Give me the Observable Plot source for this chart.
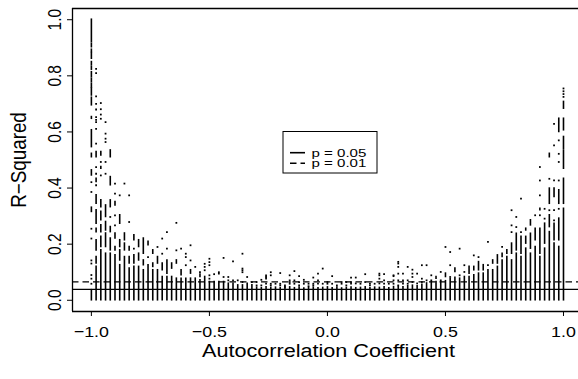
<!DOCTYPE html>
<html>
<head>
<meta charset="utf-8">
<script src="https://cdn.jsdelivr.net/npm/d3@7"></script>
<script src="https://cdn.jsdelivr.net/npm/@observablehq/plot@0.6"></script>
<style>
  html, body { margin: 0; padding: 0; background: #fff; }
  #wrap { position: relative; width: 578px; height: 379px; overflow: hidden; }
  #wrap svg { position: absolute; left: 0; top: 0; }
</style>
</head>
<body>
<div id="wrap"></div>
<script>
const xTicks = [-1, -0.5, 0, 0.5, 1];
const yTicks = [0, 0.2, 0.4, 0.6, 0.8, 1];
const xLabel = "Autocorrelation Coefficient";
const yLabel = "R\u2212Squared";
const critLabels = ["p = 0.05", "p = 0.01"];
const critR2 = [0.0388, 0.0655];
const critDash = [null, "6.5,4"];

// vertical runs of over-plotted points: [coefficient, lowest R², highest R²]
const runs = [
[-1,0.92,1],[-1,0.902,0.914],[-1,0.885,0.893],[-1,0.861,0.881],[-1,0.837,0.849],[-1,0.822,0.831],[-1,0.796,0.813],[-1,0.778,0.79],[-1,0.758,0.772],[-1,0.73,0.754],[-1,0.695,0.722],[-1,0.647,0.653],[-1,0.546,0.606],[-1,0.51,0.522],[-1,0.445,0.463],[-1,0.315,0.33],[-1,0,0.036],
[-0.98,0.51,0.528],[-0.98,0.422,0.433],[-0.98,0.344,0.374],[-0.98,0.273,0.321],[-0.98,0.243,0.255],[-0.98,0.178,0.214],[-0.98,0.131,0.154],[-0.98,0,0.119],
[-0.96,0.516,0.528],[-0.96,0.469,0.475],[-0.96,0.332,0.356],[-0.96,0.285,0.315],[-0.96,0.243,0.267],[-0.96,0.19,0.226],[-0.96,0,0.178],
[-0.94,0.297,0.338],[-0.94,0.249,0.279],[-0.94,0.19,0.238],[-0.94,0,0.166],
[-0.92,0.51,0.534],[-0.92,0.41,0.439],[-0.92,0.332,0.356],[-0.92,0.243,0.261],[-0.92,0.178,0.22],[-0.92,0,0.166],
[-0.9,0.338,0.35],[-0.9,0.22,0.238],[-0.9,0.178,0.19],[-0.9,0,0.16],
[-0.88,0.273,0.303],[-0.88,0.19,0.214],[-0.88,0.142,0.178],[-0.88,0,0.125],
[-0.86,0.214,0.238],[-0.86,0.178,0.202],[-0.86,0,0.154],
[-0.84,0.178,0.19],[-0.84,0.131,0.154],[-0.84,0,0.113],
[-0.82,0.214,0.232],[-0.82,0.131,0.16],[-0.82,0,0.119],
[-0.8,0.19,0.214],[-0.8,0.142,0.166],[-0.8,0,0.119],
[-0.78,0.166,0.22],[-0.78,0.125,0.142],[-0.78,0,0.107],
[-0.76,0.196,0.208],[-0.76,0,0.125],
[-0.74,0.166,0.178],[-0.74,0.119,0.131],[-0.74,0,0.107],
[-0.72,0.131,0.154],[-0.72,0,0.107],
[-0.7,0.107,0.131],[-0.7,0,0.083],
[-0.68,0.095,0.142],[-0.68,0,0.083],
[-0.66,0.113,0.131],[-0.66,0,0.083],
[-0.64,0.131,0.142],[-0.64,0,0.077],
[-0.62,0.089,0.107],[-0.62,0,0.077],
[-0.6,0,0.077],
[-0.58,0.095,0.107],[-0.58,0,0.077],
[-0.56,0,0.077],
[-0.54,0.083,0.092],[-0.54,0,0.071],
[-0.52,0,0.083],
[-0.5,0,0.065],[-0.48,0,0.065],[-0.46,0,0.065],[-0.44,0,0.065],
[-0.42,0,0.059],[-0.4,0,0.059],[-0.38,0,0.053],[-0.36,0,0.053],[-0.34,0,0.059],[-0.32,0,0.053],
[-0.3,0,0.045],[-0.28,0,0.043],[-0.26,0,0.046],[-0.24,0,0.044],[-0.22,0,0.045],[-0.2,0,0.043],
[-0.18,0,0.044],[-0.16,0,0.046],[-0.14,0,0.043],[-0.12,0,0.045],[-0.1,0,0.042],[-0.08,0,0.044],
[-0.06,0,0.045],[-0.04,0,0.043],[-0.02,0,0.044],[0,0,0.046],[0.02,0,0.043],[0.04,0,0.045],
[0.06,0,0.042],[0.08,0,0.044],[0.1,0,0.045],[0.12,0,0.043],[0.14,0,0.044],[0.16,0,0.046],
[0.18,0,0.043],[0.2,0,0.045],[0.22,0,0.044],[0.24,0,0.046],[0.26,0,0.043],[0.28,0,0.047],
[0.3,0,0.048],[0.32,0,0.046],[0.34,0,0.05],[0.36,0,0.052],[0.38,0,0.05],[0.4,0,0.055],
[0.42,0,0.06],[0.44,0,0.065],
[0.46,0.077,0.083],[0.46,0,0.065],
[0.48,0,0.065],
[0.5,0.083,0.095],[0.5,0,0.068],
[0.52,0,0.075],
[0.54,0.101,0.113],[0.54,0,0.08],
[0.56,0,0.077],
[0.58,0,0.083],
[0.6,0.095,0.119],[0.6,0,0.083],
[0.62,0.107,0.119],[0.62,0,0.089],
[0.64,0.107,0.136],[0.64,0,0.095],
[0.66,0.107,0.125],[0.66,0,0.095],
[0.68,0,0.107],
[0.7,0.131,0.142],[0.7,0,0.107],
[0.72,0.131,0.16],[0.72,0,0.119],
[0.74,0.154,0.166],[0.74,0,0.142],
[0.76,0.166,0.178],[0.76,0,0.154],
[0.78,0.166,0.202],[0.78,0,0.142],
[0.8,0.178,0.237],[0.8,0,0.166],
[0.82,0.166,0.226],[0.82,0,0.154],
[0.84,0.249,0.255],[0.84,0.202,0.226],[0.84,0,0.184],
[0.86,0.267,0.285],[0.86,0.184,0.237],[0.86,0,0.166],
[0.88,0.214,0.255],[0.88,0,0.19],
[0.9,0.321,0.326],[0.9,0.166,0.255],[0.9,0,0.154],
[0.92,0.202,0.273],[0.92,0,0.184],
[0.94,0.51,0.522],[0.94,0.344,0.398],[0.94,0.261,0.303],[0.94,0,0.243],
[0.96,0.368,0.398],[0.96,0.214,0.273],[0.96,0,0.202],
[0.98,0.6,0.647],[0.98,0.344,0.392],[0.98,0.214,0.291],[0.98,0,0.19],
[1,0.683,0.707],[1,0.606,0.647],[1,0.54,0.582],[1,0.469,0.534],[1,0.344,0.433],[1,0,0.326]
];

// isolated points: [coefficient, R²]
const dots = [
[-1,0.421],[-1,0.386],[-1,0.255],[-1,0.22],[-1,0.142],[-1,0.131],[-1,0.09],[-1,0.077],[-1,0.059],
[-0.98,0.825],[-0.98,0.81],[-0.98,0.727],[-0.98,0.7],[-0.98,0.68],[-0.98,0.653],[-0.98,0.643],[-0.98,0.635],[-0.98,0.611],[-0.98,0.558],[-0.98,0.475],[-0.98,0.451],[-0.98,0.41],
[-0.96,0.703],[-0.96,0.681],[-0.96,0.662],[-0.96,0.647],[-0.96,0.493],[-0.96,0.445],
[-0.94,0.635],[-0.94,0.594],[-0.94,0.576],[-0.94,0.564],[-0.94,0.493],[-0.94,0.451],
[-0.92,0.297],
[-0.9,0.416],[-0.9,0.38],[-0.9,0.303],[-0.9,0.267],
[-0.88,0.374],[-0.86,0.416],[-0.84,0.374],[-0.84,0.279],[-0.82,0.184],[-0.76,0.154],[-0.72,0.19],
[-0.7,0.22],[-0.7,0.166],[-0.68,0.243],[-0.68,0.184],[-0.64,0.276],[-0.64,0.178],[-0.62,0.184],
[-0.6,0.166],[-0.6,0.154],[-0.6,0.125],[-0.58,0.196],[-0.58,0.142],[-0.56,0.119],[-0.54,0.1],
[-0.52,0.13],[-0.52,0.119],[-0.52,0.107],
[-0.5,0.148],[-0.5,0.136],[-0.5,0.125],[-0.5,0.089],[-0.5,0.077],
[-0.48,0.093],[-0.46,0.1],[-0.46,0.095],[-0.44,0.151],[-0.44,0.083],[-0.42,0.083],[-0.42,0.071],
[-0.4,0.139],[-0.4,0.071],[-0.38,0.071],
[-0.36,0.166],[-0.36,0.113],[-0.36,0.107],[-0.36,0.1],[-0.36,0.065],
[-0.34,0.083],[-0.32,0.065],
[-0.3,0.053],[-0.3,0.065],[-0.28,0.073],[-0.28,0.053],
[-0.26,0.089],[-0.26,0.083],[-0.26,0.077],[-0.26,0.059],
[-0.24,0.1],[-0.24,0.089],[-0.24,0.059],[-0.24,0.053],
[-0.22,0.059],[-0.2,0.097],[-0.2,0.059],[-0.2,0.053],[-0.18,0.053],[-0.18,0.048],
[-0.16,0.089],[-0.16,0.071],[-0.16,0.065],[-0.16,0.059],
[-0.14,0.104],[-0.14,0.071],[-0.14,0.059],[-0.12,0.086],[-0.12,0.065],[-0.12,0.053],
[-0.1,0.073],[-0.1,0.059],[-0.08,0.059],[-0.08,0.05],
[-0.06,0.081],[-0.06,0.059],[-0.06,0.053],[-0.04,0.095],[-0.04,0.071],[-0.04,0.059],
[-0.02,0.113],[-0.02,0.059],[0,0.065],[0,0.059],[0.02,0.086],[0.02,0.059],[0.04,0.053],
[0.06,0.065],[0.06,0.059],[0.08,0.065],[0.08,0.053],[0.1,0.081],[0.1,0.065],[0.1,0.059],
[0.12,0.081],[0.12,0.06],[0.14,0.059],[0.16,0.093],[0.16,0.065],[0.18,0.059],[0.18,0.053],
[0.2,0.059],[0.22,0.095],[0.22,0.089],[0.22,0.077],[0.22,0.06],
[0.24,0.093],[0.24,0.071],[0.24,0.059],[0.26,0.059],
[0.28,0.089],[0.28,0.086],[0.28,0.071],[0.28,0.059],
[0.3,0.137],[0.3,0.131],[0.3,0.119],[0.3,0.095],[0.3,0.071],[0.3,0.053],
[0.32,0.095],[0.32,0.071],[0.32,0.059],[0.34,0.119],[0.34,0.071],[0.34,0.059],
[0.36,0.109],[0.36,0.095],[0.36,0.083],[0.36,0.065],[0.38,0.095],[0.38,0.06],
[0.4,0.125],[0.4,0.077],[0.4,0.065],
[0.42,0.125],[0.42,0.071],[0.44,0.089],[0.44,0.071],[0.48,0.101],[0.48,0.071],[0.5,0.19],
[0.52,0.172],[0.52,0.125],[0.52,0.083],[0.56,0.184],[0.56,0.089],[0.58,0.125],[0.58,0.101],
[0.62,0.16],[0.64,0.154],[0.68,0.208],[0.68,0.125],[0.74,0.19],
[0.78,0.321],[0.78,0.267],[0.78,0.243],[0.8,0.297],[0.8,0.261],[0.82,0.362],[0.82,0.243],
[0.88,0.303],[0.9,0.475],[0.9,0.427],[0.9,0.374],[0.9,0.303],[0.92,0.326],[0.92,0.291],
[0.94,0.433],[0.94,0.321],
[0.96,0.629],[0.96,0.552],[0.96,0.427],[0.96,0.321],[0.96,0.285],
[0.98,0.57],[0.98,0.522],[0.98,0.493],[0.98,0.427],[0.98,0.326],
[1,0.755],[1,0.745],[1,0.735],[1,0.725]
];

const FONT = "'Liberation Sans', Arial, Helvetica, sans-serif";
const SX = 1.15;   // horizontal stretch of the reference's lettering
const xDomain = [-1.08, 1.0636];
const yDomain = [-0.04, 1.04];
const fmt = d3.format(".1f");

const chart = Plot.plot({
  width: 578, height: 379,
  marginLeft: 72, marginRight: 0, marginTop: 8, marginBottom: 68,
  x: {domain: xDomain},
  y: {domain: yDomain},
  style: {fontFamily: FONT, background: "#fff", color: "#000"},
  marks: [
    Plot.ruleX(runs, {x: d => d[0], y1: d => d[1], y2: d => d[2], stroke: "#000", strokeWidth: 1.6, strokeLinecap: "square"}),
    Plot.dot(dots, {x: d => d[0], y: d => d[1], symbol: "square", r: 1, fill: "#000", stroke: "none"}),
    Plot.ruleY([critR2[0]], {stroke: "#000", strokeWidth: 1.3}),
    Plot.ruleY([critR2[1]], {stroke: "#000", strokeWidth: 1.3, strokeDasharray: critDash[1]}),
    Plot.ruleX([xDomain[0]], {stroke: "#000", strokeWidth: 1.3}),
    Plot.ruleY([yDomain[0], yDomain[1]], {stroke: "#000", strokeWidth: 1.3}),
    Plot.axisX({ticks: xTicks, tickSize: 5, tickPadding: 9, tickFormat: fmt, fontSize: 15.5, label: null}),
    Plot.axisY({ticks: yTicks, tickSize: 5, tickFormat: () => "", label: null}),
    Plot.text(yTicks, {x: xDomain[0], y: d => d, text: d => fmt(d), rotate: -90, dx: -12, lineAnchor: "bottom", textAnchor: "middle", fontSize: 15.5}),
    Plot.text([yLabel], {frameAnchor: "left", text: d => d, rotate: -90, dx: -47, lineAnchor: "bottom", textAnchor: "middle", fontSize: 18.8}),
    Plot.text([xLabel], {frameAnchor: "bottom", text: d => d, dy: 45, dx: 3, lineAnchor: "bottom", textAnchor: "middle", fontSize: 18.8})
  ]
});

// stretch lettering horizontally like the reference
chart.querySelectorAll("text").forEach(t => {
  const tr = t.getAttribute("transform") || "";
  const m = tr.match(/^translate\([^)]*\)/);
  if (m) {
    t.setAttribute("transform", m[0] + ` scale(${SX},1)` + tr.slice(m[0].length));
  } else {
    const x = +(t.getAttribute("x") || 0), y = +(t.getAttribute("y") || 0);
    t.removeAttribute("x"); t.removeAttribute("y");
    t.setAttribute("transform", `translate(${x},${y}) scale(${SX},1) ` + tr);
  }
});

const wrap = document.getElementById("wrap");
wrap.appendChild(chart);

// legend box drawn over the plotting area
const leg = d3.create("svg").attr("width", 578).attr("height", 379)
  .style("position", "absolute").style("left", "0px").style("top", "0px");
leg.append("rect").attr("x", 283).attr("y", 131.5).attr("width", 94).attr("height", 41.5)
  .attr("fill", "#fff").attr("stroke", "#000").attr("stroke-width", 1);
critLabels.forEach((lab, i) => {
  const y = 152.7 + i * 10.6;
  leg.append("line").attr("x1", 290).attr("x2", 305).attr("y1", y).attr("y2", y)
    .attr("stroke", "#000").attr("stroke-width", 1.6)
    .attr("stroke-dasharray", critDash[i]);
  leg.append("text").attr("transform", `translate(311.5,${y + 3.8}) scale(1.45,1)`)
    .attr("font-family", FONT).attr("font-size", 10.4).attr("fill", "#000").text(lab);
});
wrap.appendChild(leg.node());
</script>
</body>
</html>
